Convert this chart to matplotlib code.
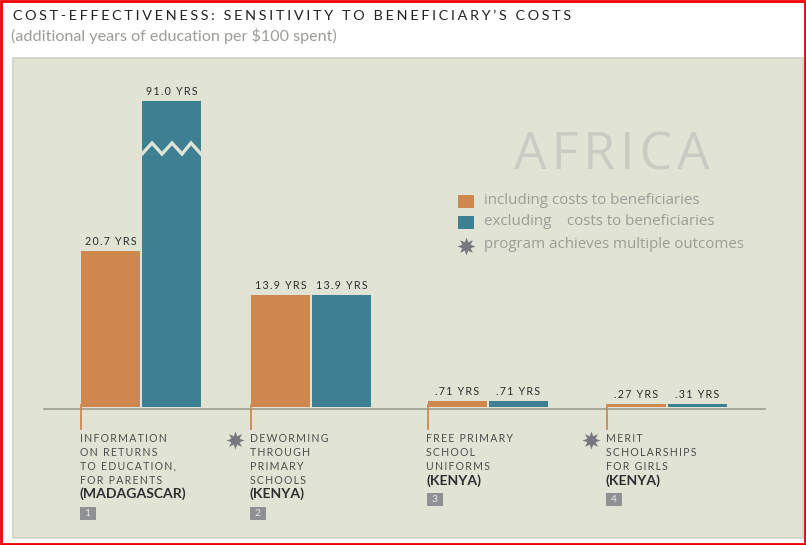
import numpy as np
import matplotlib
matplotlib.use("Agg")
import matplotlib.pyplot as plt
from matplotlib.patches import Rectangle

# --- Data ---
programs = [
    ["INFORMATION", "ON RETURNS", "TO EDUCATION,", "FOR PARENTS"],
    ["DEWORMING", "THROUGH", "PRIMARY", "SCHOOLS"],
    ["FREE PRIMARY", "SCHOOL", "UNIFORMS"],
    ["MERIT", "SCHOLARSHIPS", "FOR GIRLS"],
]
countries = ["(MADAGASCAR)", "(KENYA)", "(KENYA)", "(KENYA)"]
including = [20.7, 13.9, 0.71, 0.27]
excluding = [91.0, 13.9, 0.71, 0.31]
including_labels = ["20.7 YRS", "13.9 YRS", ".71 YRS", ".27 YRS"]
excluding_labels = ["91.0 YRS", "13.9 YRS", ".71 YRS", ".31 YRS"]
multiple_outcomes = [False, True, False, True]

ORANGE = "#d0874e"
TEAL = "#3d7f93"
PANEL = "#e1e4d5"
STAR = "#77797f"
TEXT = "#4b4d4c"
SOFT = "#9b9d96"

HUMANIST = ["Lato", "DejaVu Sans"]
MYRIAD = ["Open Sans", "DejaVu Sans"]


def spaced(s, n=2):
    # no letter-spacing in matplotlib, hair spaces get close enough
    return ("\u200a" * n).join(s)


fig = plt.figure(figsize=(8.06, 5.45), dpi=100, facecolor="white")

# --- Pixel axes for the frame and all the annotation ---
px = fig.add_axes([0, 0, 1, 1], zorder=0)
px.set_xlim(0, 806)
px.set_ylim(545, 0)
px.axis("off")

px.add_patch(Rectangle((12.5, 58), 790, 480, fc=PANEL, ec="#cfd2c6", lw=1.2))
px.add_patch(Rectangle((1, 1), 804, 542.5, fc="none", ec="#f00000", lw=2))

px.text(13, 16, spaced("COST-EFFECTIVENESS: SENSITIVITY TO BENEFICIARY\u2019S COSTS", 3),
        family=HUMANIST, fontsize=10.4, color="#222222", va="center")
px.text(11, 35.5, "(additional years of education per $100 spent)",
        family=HUMANIST, fontsize=11.6, color=SOFT, va="center")

px.text(612, 170, spaced("AFRICA", 1), family=MYRIAD, fontsize=37, color="#c9ccc2",
        ha="center", va="baseline")

# --- Legend ---
px.add_patch(Rectangle((458, 195), 16, 13, fc=ORANGE, ec="none"))
px.add_patch(Rectangle((458, 216), 16, 13, fc=TEAL, ec="none"))
px.plot([466], [245.5], marker=(8, 1, 0), ms=13, color=STAR, mew=0)
px.text(484, 201, "including costs to beneficiaries", family=MYRIAD, fontsize=10.9,
        color=SOFT, va="center")
px.text(484, 221.5, "excluding    costs to beneficiaries", family=MYRIAD, fontsize=10.9,
        color=SOFT, va="center")
px.text(484, 245, "program achieves multiple outcomes", family=MYRIAD, fontsize=10.8,
        color=SOFT, va="center")

# --- Bars: the original is not drawn to scale, so the y scale is piecewise ---
value_pts = [0, 0.27, 0.71, 13.9, 20.7, 91.0, 150.0]
height_pts = [0, 3, 6, 112, 156, 306, 407]


def forward(v):
    return np.interp(v, value_pts, height_pts)


def inverse(h):
    return np.interp(h, height_pts, value_pts)


ax = fig.add_axes([0, (545 - 407) / 545, 1, 407 / 545], zorder=1)
ax.patch.set_alpha(0)
ax.set_yscale("function", functions=(forward, inverse))
ax.set_xlim(0, 806)
ax.set_ylim(0, 150)
ax.axis("off")

group_x = np.array([141, 311, 488, 667])
bars_in = ax.bar(group_x - 30.5, including, width=59.5, color=ORANGE)
bars_ex = ax.bar(group_x + 30.5, excluding, width=59.5, color=TEAL)

for bars, labels in ((bars_in, including_labels), (bars_ex, excluding_labels)):
    for b, lab in zip(bars, labels):
        ax.annotate(spaced(lab), (b.get_x() + b.get_width() / 2, b.get_height()),
                    xytext=(0, 7), textcoords="offset points", ha="center", va="center",
                    family=HUMANIST, fontsize=7.7, color="#2b2b2b")

# axis-break zigzag on the tall bar
ax.plot([142, 152, 162, 172, 182, 191, 201], [154, 143, 154, 143, 154, 143, 154],
        transform=px.transData, color=PANEL, lw=2.4, solid_joinstyle="miter", clip_on=False)

# --- Baseline, tick stems and captions ---
px.plot([44, 765], [408.7, 408.7], color="#9a9e90", lw=1.2)

line_h = 13.9
for i, lines in enumerate(programs):
    x = group_x[i] - 60.5
    px.plot([x, x], [405, 429], color=ORANGE, lw=1.3, zorder=3)
    y = 438.5
    for line in lines:
        px.text(x - 1, y, spaced(line), family=HUMANIST, fontsize=7.6, color=TEXT, va="center")
        y += line_h
    px.text(x - 1, y, countries[i], family=HUMANIST, fontsize=10.1, fontweight="bold",
            color="#2e2f30", va="center")
    y += 20
    px.add_patch(Rectangle((x - 1, y - 7), 16.5, 13, fc="#8f9094", ec="none"))
    px.text(x + 7, y - 0.5, str(i + 1), family=HUMANIST, fontsize=7.5, color="#e8e8e4",
            ha="center", va="center")
    if multiple_outcomes[i]:
        px.plot([x - 15.5], [440], marker=(8, 1, 0), ms=13, color=STAR, mew=0)

fig.savefig("out.png", dpi=100)
